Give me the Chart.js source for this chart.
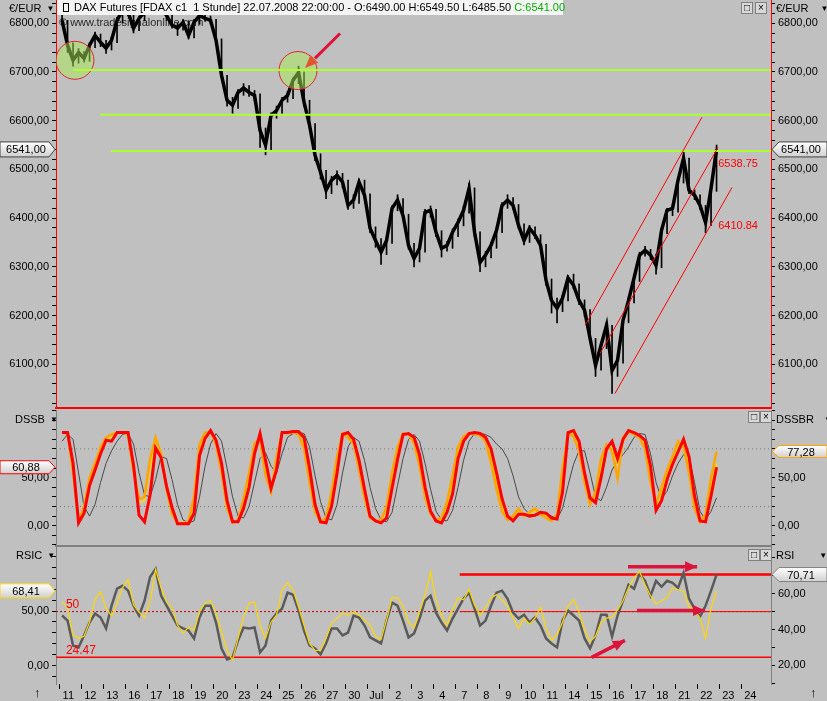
<!DOCTYPE html>
<html>
<head>
<meta charset="utf-8">
<script src="https://cdn.jsdelivr.net/npm/chart.js@4.4.1/dist/chart.umd.min.js"></script>
<style>
  body { margin: 0; background: #c0c0c0; }
  #wrap { position: relative; width: 827px; height: 701px; overflow: hidden; background: #c0c0c0;
          font-family: "Liberation Sans", Arial, sans-serif; }
  canvas { position: absolute; left: 0; }
  .lbl { position: absolute; font-size: 11px; line-height: 13px; color: #000; white-space: nowrap; }
  .tri { font-size: 8px; position: relative; top: -1px; margin-left: 5px; }
  .hdr { position: absolute; left: 57px; top: 0; width: 506px; height: 15px; background: #f4f4f4;
         font-size: 11px; line-height: 15px; white-space: nowrap; }
  .ico { display: inline-block; width: 4px; height: 7px; border: 1px solid #000; margin: 0 5px 0 6px;
         position: relative; top: 1px; }
  .btn { position: absolute; width: 10px; height: 10px; border: 1px solid #808080; background: #d8d8d8;
         font-size: 10px; line-height: 10px; text-align: center; color: #000; }
  .hline { position: absolute; left: 55px; width: 717px; height: 2px; background: #808080; }
</style>
</head>
<body>
<div id="wrap">
  <canvas id="cPrice" width="827" height="410" style="top:0"></canvas>
  <canvas id="cDss" width="827" height="135" style="top:410px"></canvas>
  <div class="hline" style="top:545px"></div>
  <canvas id="cRsi" width="827" height="154" style="top:547px"></canvas>

  <div class="hdr"><span class="ico"></span>DAX Futures [FDAX c1&nbsp; 1 Stunde] 22.07.2008 22:00:00 - O:6490.00 H:6549.50 L:6485.50 <span style="color:#00b000">C:6541.00</span></div>
  <div class="btn" style="left:741px;top:2px">□</div><div class="btn" style="left:755px;top:2px">×</div>
  <div class="btn" style="left:748px;top:411px">□</div><div class="btn" style="left:760px;top:411px">×</div>
  <div class="btn" style="left:748px;top:549px">□</div><div class="btn" style="left:760px;top:549px">×</div>

  <div class="lbl" style="left:9px;top:2px">€/EUR<span class="tri">▼</span></div>
  <div class="lbl" style="left:776px;top:2px">€/EUR<span class="tri" style="margin-left:12px">▼</span></div>
  <div class="lbl" style="left:15px;top:413px">DSSB<span class="tri">▼</span></div>
  <div class="lbl" style="left:776px;top:413px">DSSBR<span class="tri" style="margin-left:10px">▼</span></div>
  <div class="lbl" style="left:16px;top:549px">RSIC<span class="tri">▼</span></div>
  <div class="lbl" style="left:776px;top:549px">RSI<span class="tri" style="margin-left:25px">▼</span></div>
  <div class="lbl" style="left:34px;top:686px;font-size:13px">↑</div>
  <div class="lbl" style="left:810px;top:686px;font-size:13px">↑</div>
</div>

<script>
// x axis: one tick per trading day, 4 samples per day
const dayLabels = ["11","12","13","16","17","18","19","20","23","24","25","26","27","30","Jul",
  "2","3","4","7","8","9","10","11","14","15","16","17","18","21","22","23","24"];
const PER_DAY = 4;
const X_MIN = -0.15, X_MAX = 32.35;

// hourly FDAX (approx., 4 samples per day)
const priceClose = [6806,6755,6724,6740,6728,6755,6775,6761,6749,6765,
  6806,6827,6823,6790,6810,6823,6831,6837,6831,6816,
  6796,6790,6802,6775,6802,6816,6810,6806,6765,6693,
  6642,6632,6658,6667,6658,6652,6580,6550,6611,6621,
  6642,6652,6683,6699,6638,6591,6529,6494,6457,6478,
  6488,6474,6426,6437,6474,6447,6379,6354,6330,6354,
  6420,6437,6405,6344,6317,6338,6412,6416,6371,6338,
  6344,6371,6391,6416,6461,6371,6309,6324,6344,6375,
  6426,6437,6426,6385,6354,6379,6365,6344,6272,6231,
  6215,6236,6277,6262,6231,6211,6153,6098,6139,6180,
  6087,6108,6190,6231,6277,6324,6334,6324,6303,6375,
  6416,6420,6478,6523,6457,6447,6426,6391,6461,6541];
const priceHigh = [6830,6806,6760,6748,6742,6760,6782,6778,6765,6772,
  6812,6835,6838,6825,6815,6830,6838,6845,6842,6833,
  6818,6800,6808,6805,6808,6822,6820,6815,6808,6768,
  6693,6648,6664,6676,6672,6662,6655,6585,6616,6630,
  6648,6660,6688,6712,6700,6642,6594,6532,6498,6486,
  6497,6492,6478,6448,6480,6478,6450,6382,6358,6360,
  6425,6448,6440,6408,6348,6345,6418,6425,6418,6374,
  6352,6378,6398,6425,6472,6462,6372,6332,6350,6380,
  6432,6448,6442,6428,6388,6385,6382,6366,6346,6275,
  6236,6242,6282,6285,6265,6232,6212,6153,6145,6186,
  6180,6112,6195,6238,6282,6330,6342,6336,6326,6380,
  6420,6428,6482,6535,6523,6458,6448,6426,6465,6550];
const priceLow = [6800,6740,6712,6718,6720,6722,6750,6752,6738,6745,
  6760,6800,6815,6780,6785,6805,6820,6826,6824,6806,
  6790,6775,6786,6768,6770,6798,6804,6798,6760,6688,
  6630,6615,6625,6652,6650,6640,6545,6530,6540,6605,
  6615,6638,6645,6676,6630,6585,6518,6480,6440,6450,
  6468,6462,6418,6420,6430,6440,6370,6340,6305,6325,
  6348,6415,6398,6336,6300,6310,6330,6402,6362,6320,
  6332,6338,6362,6384,6410,6362,6290,6300,6318,6338,
  6370,6420,6418,6378,6345,6350,6358,6338,6262,6205,
  6185,6208,6230,6255,6222,6198,6145,6075,6088,6132,
  6040,6075,6102,6185,6226,6270,6322,6315,6285,6298,
  6368,6405,6412,6472,6450,6438,6418,6370,6385,6455];
const lastPrice = 6541;

// horizontal support lines [start day, price]
const greenLines = [[0.62, 6704], [1.85, 6612], [2.35, 6538]];
// trend channel [x0, p0, x1, p1]
const channelLines = [[23.90, 6180, 29.21, 6607], [24.58, 6122, 29.94, 6545], [25.26, 6040, 30.58, 6463]];
const channelLabels = [[29.95, 6511, "6538.75"], [29.95, 6384, "6410.84"]];
const circles = [[0.71, 6724], [10.85, 6703]];
const priceArrow = [12.76, 6779, 11.17, 6708];

// DSSB panel
const dssRed = [97,97,65,3,13,42,58,75,89,88,
  97,97,97,63,11,4,32,81,71,41,
  19,2,2,2,13,73,91,99,89,65,
  26,4,4,18,40,75,96,68,39,58,
  97,97,98,98,92,60,22,4,3,20,
  55,95,97,90,68,38,10,5,3,8,
  39,69,95,96,92,74,40,15,5,3,
  14,33,70,88,96,97,96,92,80,55,
  28,10,5,12,12,10,11,14,13,8,
  7,35,97,99,88,55,29,24,50,80,
  88,70,90,99,97,94,89,62,16,26,
  48,64,77,90,72,31,5,4,31,60.88];
const dssOrange = [97,96,55,5,20,50,65,82,92,95,
  97,97,95,55,28,30,70,92,75,38,
  12,3,2,5,30,85,97,98,84,55,
  18,3,6,28,55,86,90,52,35,72,
  97,96,97,95,80,45,14,4,8,35,
  72,96,92,85,58,28,8,5,6,20,
  55,82,96,95,86,62,30,12,6,8,
  25,52,82,93,97,95,94,88,65,38,
  15,6,10,18,10,14,18,12,8,5,
  12,60,96,93,78,45,22,35,70,85,
  78,49,92,98,95,92,80,45,22,40,
  58,72,88,82,55,18,4,12,50,77.28];
const dssYellow = [97,97,60,6,16,45,62,78,90,92,
  97,97,96,60,24,26,60,88,78,42,
  15,4,3,4,24,80,95,98,87,60,
  22,4,5,24,50,80,92,58,36,66,
  96,97,97,96,84,50,18,5,6,30,
  65,94,94,87,62,32,10,5,5,16,
  50,78,95,96,88,66,34,14,6,6,
  20,46,78,91,96,96,95,90,72,46,
  20,7,8,16,12,13,15,13,10,6,
  10,52,94,96,82,50,25,30,62,82,
  82,64,88,97,96,93,84,52,20,34,
  54,68,84,86,62,24,5,8,42,65];
const dssGray = [88,95,90,55,20,10,22,45,65,78,
  88,95,96,85,55,32,30,48,72,70,
  48,22,6,3,5,30,62,85,96,88,
  60,30,10,8,20,45,70,76,62,55,
  75,92,96,97,96,82,52,25,8,6,
  22,55,82,92,88,68,40,18,6,4,
  14,42,70,90,95,88,65,38,15,6,
  5,16,40,68,88,96,96,95,92,85,
  80,70,52,30,18,12,10,12,13,10,
  7,18,42,64,78,78,55,30,26,40,
  58,68,74,82,92,96,95,75,45,28,
  36,52,65,74,72,45,15,6,15,29];
const dssLevels = [20, 80];

// RSI panel: gray on right scale, yellow (RSIC) on left scale
const rsiGray = [47.8,45,31.1,30,36.7,43.9,48.9,46.7,40.6,53.3,
  62.8,64.4,61.7,53.3,47.8,56.1,69.4,73.9,58.9,53.3,
  47.8,42.2,40.6,39.4,35,46.7,53.3,53.3,43.9,29.4,
  23.3,24.4,33.9,41.1,40.6,41.1,27.2,31.1,45,48.9,
  51.7,60.6,59.4,50.6,39.4,31.1,29.4,26.1,32.2,40.6,
  40.6,36.7,38.3,47.8,46.7,42.2,35.6,33.9,32.2,45,
  55,53.3,45,35.6,37.8,46.1,56.1,58.9,49.4,43.9,
  39.4,46.1,51.7,57.2,60.6,51.7,42.2,45,53.3,60.6,
  61.7,57.2,49.4,46.1,48.3,43.9,46.7,42.2,35,32.2,
  30,45,50.6,47.8,45,35,29.4,36.7,48.3,48.3,
  36.1,47.8,56.1,65,62.8,71.1,67.2,58.9,67.2,63.9,
  67.2,66.1,63.3,71.7,57.2,51.7,47.2,53.3,61.7,70.71];
const rsiYellow = [58.3,52.8,27.8,25,26.9,39.8,60.2,67.6,52.8,45.4,
  57.4,71.3,78.7,55.6,49.1,43.5,58.3,88,71.3,58.3,
  52.8,37,29.6,35.2,32.4,49.1,57.4,59.3,48.1,30.6,
  13.9,5,25,44.4,57.4,58.3,37,25,39.8,46.3,
  69.4,75.9,69.4,53.7,37,20.4,13.9,13.9,25,38.9,
  43.5,48.1,46.3,49.1,46.3,41.7,37,26.9,24.1,41.7,
  62,62,54.6,39.8,34.3,49.1,64.8,86.1,60.2,46.3,
  37,50.9,62,60.2,69.4,55.6,46.3,52.8,62,64.8,
  60.2,54.6,43.5,34.3,43.5,38,43.5,53.7,34.3,23.1,
  28.7,39.8,54.6,60.2,49.1,32.4,22.2,26.9,39.8,43.5,
  44.4,50.9,59.3,71.3,80.6,86.1,74.1,63.9,56.5,59.3,
  62,71.3,69.4,68.5,53.7,50.9,43.5,25,52.8,68.41];
const rsiUpper = [18.2, 70.71];
const rsiMid = 50;
const rsiLow = 24.47;
const rsiArrows = [[25.85, 75, 28.99, 75], [26.26, 50.6, 29.35, 50.6], [24.2, 24.4, 25.71, 33.9]];

// ---------- helpers ----------
const FONT = { family: "Liberation Sans, Arial, sans-serif", size: 11 };
const fmt = v => v.toFixed(2).replace('.', ',');
const pts = arr => arr.map((v, i) => ({ x: (i + 0.5) / PER_DAY, y: v }));
const seg = (x0, y0, x1, y1) => [{ x: x0, y: y0 }, { x: x1, y: y1 }];

function noPad(s) { s.paddingTop = 0; s.paddingBottom = 0; s.paddingLeft = 0; s.paddingRight = 0; }

function yAxis(pos, min, max, step, labelled, border) {
  return {
    position: pos, min: min, max: max,
    afterFit: s => { s.width = 56; noPad(s); },
    border: { color: border, width: 1 },
    grid: { drawOnChartArea: false, drawTicks: true, tickLength: 4, color: '#000' },
    ticks: {
      stepSize: step, autoSkip: false, includeBounds: false, padding: 3, color: '#000', font: FONT,
      callback: v => labelled.some(l => Math.abs(l - v) < 1e-6) ? fmt(v) : ''
    }
  };
}

function xAxis(show) {
  return {
    type: 'linear', min: X_MIN, max: X_MAX, display: show,
    afterFit: s => { if (show) s.height = 17; noPad(s); },
    afterBuildTicks: s => { s.ticks = s.ticks.filter(t => t.value >= 0 && t.value < dayLabels.length); },
    border: { display: false },
    grid: { drawOnChartArea: false, drawTicks: true, tickLength: 5, color: '#000', offset: false },
    offset: false,
    ticks: {
      stepSize: 1, autoSkip: false, includeBounds: false, maxRotation: 0, padding: 0,
      labelOffset: 9, color: '#000', font: FONT,
      callback: v => dayLabels[v] ?? ''
    }
  };
}

const base = {
  responsive: false, animation: false, devicePixelRatio: 1, events: [],
  plugins: { legend: { display: false }, tooltip: { enabled: false } }
};

function line(data, color, width, order, extra) {
  return Object.assign({ type: 'line', data: data, borderColor: color, borderWidth: width,
    pointRadius: 0, tension: 0, fill: false, order: order }, extra || {});
}

function arrowHead(ctx, x1, y1, x2, y2, len, wid, color) {
  const a = Math.atan2(y2 - y1, x2 - x1);
  ctx.save();
  ctx.translate(x2, y2); ctx.rotate(a);
  ctx.fillStyle = color;
  ctx.beginPath();
  ctx.moveTo(0, 0); ctx.lineTo(-len, -wid / 2); ctx.lineTo(-len, wid / 2);
  ctx.closePath(); ctx.fill();
  ctx.restore();
}

function tag(ctx, text, y, side, stroke, h) {
  ctx.save();
  const half = h / 2;
  ctx.beginPath();
  if (side === 'left') {
    ctx.moveTo(0, y - half); ctx.lineTo(49, y - half); ctx.lineTo(55, y);
    ctx.lineTo(49, y + half); ctx.lineTo(0, y + half);
  } else {
    ctx.moveTo(827, y - half); ctx.lineTo(779, y - half); ctx.lineTo(772, y);
    ctx.lineTo(779, y + half); ctx.lineTo(827, y + half);
  }
  ctx.closePath();
  const g = ctx.createLinearGradient(0, y - half, 0, y + half);
  g.addColorStop(0, '#ffffff'); g.addColorStop(1, '#d0d0d0');
  ctx.fillStyle = g; ctx.fill();
  ctx.strokeStyle = stroke; ctx.lineWidth = 1; ctx.stroke();
  ctx.fillStyle = '#000';
  ctx.font = '11px "Liberation Sans", Arial, sans-serif';
  ctx.textAlign = 'center'; ctx.textBaseline = 'middle';
  ctx.fillText(text, side === 'left' ? 26 : 801, y + 1);
  ctx.restore();
}

// ---------- price panel ----------
const pricePlugin = {
  id: 'priceExtras',
  beforeDatasetsDraw(chart) {
    const ctx = chart.ctx;
    ctx.save();
    ctx.fillStyle = '#2a2a2a';
    ctx.font = '11px "Liberation Sans", Arial, sans-serif';
    ctx.textBaseline = 'middle';
    ctx.fillText('© www.tradesignalonline.com', 59, 23);
    ctx.restore();
  },
  afterDraw(chart) {
    const ctx = chart.ctx, x = chart.scales.x, y = chart.scales.y;
    ctx.save();
    ctx.fillStyle = '#ff0000';
    ctx.fillRect(55, chart.chartArea.bottom - 1, 717, 2);
    ctx.font = '11px "Liberation Sans", Arial, sans-serif';
    ctx.textBaseline = 'middle';
    channelLabels.forEach(c => ctx.fillText(c[2], x.getPixelForValue(c[0]), y.getPixelForValue(c[1])));
    const a = priceArrow;
    arrowHead(ctx, x.getPixelForValue(a[0]), y.getPixelForValue(a[1]),
      x.getPixelForValue(a[2]), y.getPixelForValue(a[3]), 13, 11, '#e0542e');
    ctx.restore();
    const py = y.getPixelForValue(lastPrice);
    tag(ctx, fmt(lastPrice), py, 'left', '#404040', 15);
    tag(ctx, fmt(lastPrice), py, 'right', '#404040', 15);
  }
};

const PRICE_MIN = 6010.1, PRICE_MAX = 6847.8;
const priceTicks = [6100, 6200, 6300, 6400, 6500, 6600, 6700, 6800];

new Chart(document.getElementById('cPrice'), {
  type: 'line',
  data: {
    datasets: [
      { type: 'bar', data: priceLow.map((l, i) => ({ x: (i + 0.5) / PER_DAY, y: [l, priceHigh[i]] })),
        backgroundColor: '#000000', barThickness: 1, order: 7 },
      line(pts(priceClose), '#000000', 3.5, 6),
      ...greenLines.map(g => line(seg(g[0], g[1], X_MAX, g[1]), '#adff2f', 2, 2)),
      ...channelLines.map(c => line(seg(c[0], c[1], c[2], c[3]), '#ff0000', 1, 1)),
      { type: 'bubble', data: circles.map(c => ({ x: c[0], y: c[1], r: 19 })),
        backgroundColor: 'rgba(170,234,86,0.5)', borderColor: '#e0203c', borderWidth: 1, order: 3 },
      line(seg(priceArrow[0], priceArrow[1], priceArrow[2] + 0.45, priceArrow[3] + 20), '#dc143c', 3, 0)
    ]
  },
  options: Object.assign({}, base, {
    layout: { padding: { top: 0, bottom: 2, left: 0, right: 0 }, autoPadding: false },
    scales: {
      x: xAxis(false),
      y: yAxis('left', PRICE_MIN, PRICE_MAX, 20, priceTicks, '#ff0000'),
      y2: yAxis('right', PRICE_MIN, PRICE_MAX, 20, priceTicks, '#ff0000')
    }
  }),
  plugins: [pricePlugin]
});

// ---------- DSSB panel ----------
const DSS_MIN = -20.1, DSS_MAX = 120.5;
const dssPlugin = {
  id: 'dssExtras',
  afterDraw(chart) {
    const y = chart.scales.y;
    tag(chart.ctx, fmt(dssRed[dssRed.length - 1]), y.getPixelForValue(dssRed[dssRed.length - 1]), 'left', '#ff0000', 13);
    tag(chart.ctx, fmt(dssOrange[dssOrange.length - 1]), y.getPixelForValue(dssOrange[dssOrange.length - 1]), 'right', '#ffa500', 12);
  }
};

new Chart(document.getElementById('cDss'), {
  type: 'line',
  data: {
    datasets: [
      ...dssLevels.map(l => line(seg(X_MIN, l, X_MAX, l), '#7a7a7a', 1, 5, { borderDash: [1, 3] })),
      line(pts(dssGray), '#4a4a4a', 1, 3),
      line(pts(dssYellow), '#ffd700', 1.5, 2),
      line(pts(dssOrange), '#ffa500', 2.5, 1),
      line(pts(dssRed), '#ff0000', 3, 0)
    ]
  },
  options: Object.assign({}, base, {
    layout: { padding: 0, autoPadding: false },
    scales: {
      x: xAxis(false),
      y: yAxis('left', DSS_MIN, DSS_MAX, 10, [0, 50], '#808080'),
      y2: yAxis('right', DSS_MIN, DSS_MAX, 10, [0, 50], '#808080')
    }
  }),
  plugins: [dssPlugin]
});

// ---------- RSI panel ----------
const RSIC_MIN = -16.7, RSIC_MAX = 108.5;
const RSI_MIN = 9.55, RSI_MAX = 86.1;
const rsiPlugin = {
  id: 'rsiExtras',
  afterDraw(chart) {
    const ctx = chart.ctx, x = chart.scales.x, yr = chart.scales.y2, yl = chart.scales.y;
    ctx.save();
    ctx.fillStyle = '#ff0000';
    ctx.font = '12px "Liberation Sans", Arial, sans-serif';
    ctx.textBaseline = 'middle';
    ctx.fillText('50', x.getPixelForValue(0.3), yr.getPixelForValue(rsiMid) - 7);
    ctx.fillText(rsiLow.toFixed(2), x.getPixelForValue(0.3), yr.getPixelForValue(rsiLow) - 7);
    rsiArrows.forEach(a => arrowHead(ctx, x.getPixelForValue(a[0]), yr.getPixelForValue(a[1]),
      x.getPixelForValue(a[2]), yr.getPixelForValue(a[3]), 12, 11, '#dc143c'));
    ctx.restore();
    tag(ctx, fmt(rsiYellow[rsiYellow.length - 1]), yl.getPixelForValue(rsiYellow[rsiYellow.length - 1]), 'left', '#ffd700', 14);
    tag(ctx, fmt(rsiGray[rsiGray.length - 1]), yr.getPixelForValue(rsiGray[rsiGray.length - 1]), 'right', '#808080', 14);
  }
};

new Chart(document.getElementById('cRsi'), {
  type: 'line',
  data: {
    datasets: [
      line(seg(X_MIN, rsiMid, X_MAX, rsiMid), '#c00000', 1, 5, { yAxisID: 'y2', borderDash: [2, 2] }),
      line(seg(rsiUpper[0], rsiMid, X_MAX, rsiMid), '#ff0000', 1, 4, { yAxisID: 'y2' }),
      line(seg(X_MIN, rsiLow, X_MAX, rsiLow), '#ff0000', 1.5, 4, { yAxisID: 'y2' }),
      line(seg(rsiUpper[0], rsiUpper[1], X_MAX, rsiUpper[1]), '#ff0000', 2.5, 4, { yAxisID: 'y2' }),
      line(pts(rsiGray), '#5a5a5a', 2.5, 2, { yAxisID: 'y2' }),
      line(pts(rsiYellow), '#ffd700', 1.2, 1, { yAxisID: 'y' }),
      ...rsiArrows.map(a => line(seg(a[0], a[1], a[2], a[3]), '#dc143c', 3.5, 0, { yAxisID: 'y2' }))
    ]
  },
  options: Object.assign({}, base, {
    layout: { padding: 0, autoPadding: false },
    scales: {
      x: xAxis(true),
      y: yAxis('left', RSIC_MIN, RSIC_MAX, 10, [0, 50], '#808080'),
      y2: yAxis('right', RSI_MIN, RSI_MAX, 10, [20, 40, 60], '#808080')
    }
  }),
  plugins: [rsiPlugin]
});
</script>
</body>
</html>
